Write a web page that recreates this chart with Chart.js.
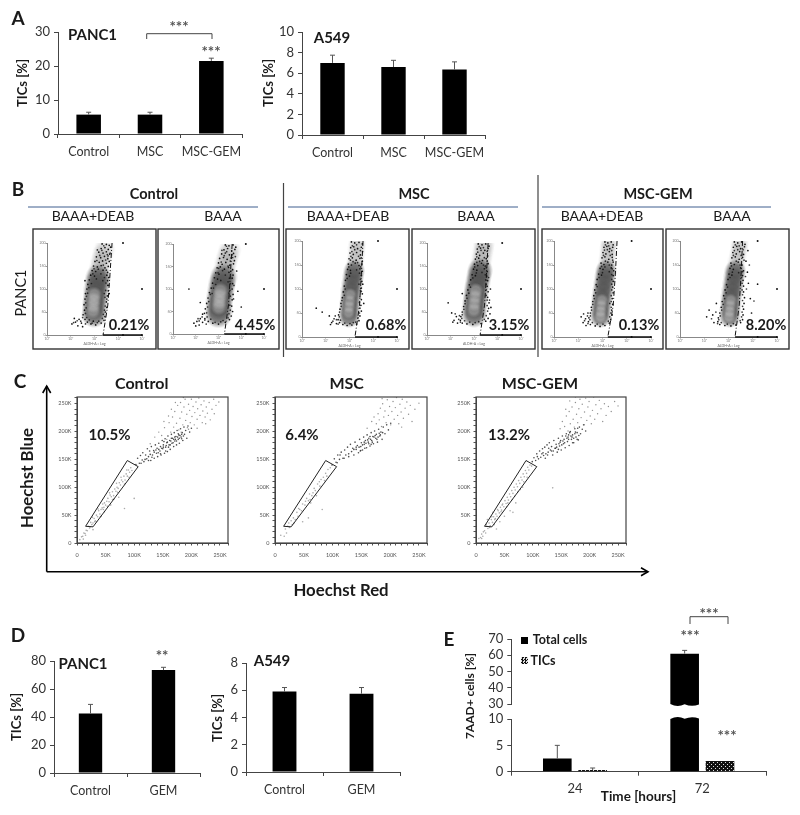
<!DOCTYPE html>
<html>
<head>
<meta charset="utf-8">
<title>TICs figure</title>
<script src="https://cdn.jsdelivr.net/npm/chart.js@4"></script>
<style>
html, body { margin: 0; padding: 0; background: #fff; }
#page { position: relative; width: 800px; height: 815px; overflow: hidden; filter: blur(0.4px); font-family: Lato, sans-serif; color: #222; }
.txt { position: absolute; white-space: nowrap; line-height: 1; }
svg { position: absolute; left: 0; top: 0; }
</style>
</head>
<body>
<div id="page"></div>
<script>
// panel A
const aCats = ['Control', 'MSC', 'MSC-GEM'];
const aPanc = [5.7, 5.7, 21.5];
const aPancErr = [0.7, 0.7, 0.8];
const aLung = [7.0, 6.6, 6.35];
const aLungErr = [0.75, 0.65, 0.75];

// panel D
const dCats = ['Control', 'GEM'];
const dPanc = [42.5, 73.5];
const dPancErr = [6.5, 2];
const dLung = [5.9, 5.75];
const dLungErr = [0.3, 0.45];

// panel E
const eCats = ['24', '72'];
const eTotal = [2.5, 61];
const eTotalErr = [2.5, 2];
const eTics = [0.3, 2.05];
const eTicsErr = [0.4, 0];

// panel B, x = log decades of the ALDH channel, y = SSC
const b1Speck = [[2.32,198],[2.5,197],[2.62,195],[2.28,188],[2.44,190],[2.58,186],[2.68,191],[2.18,180],[2.36,178],[2.5,181],[2.64,176],[2.08,170],[2.26,168],[2.42,171],[2.56,166],[2.02,160],[2.2,158],[2.34,161],[2.5,156],[2.62,160],[1.96,150],[2.12,148],[2.28,151],[2.44,146],[2.58,149],[1.9,140],[2.05,138],[2.36,141],[2.55,136],[1.84,130],[2.0,128],[2.52,130],[2.6,125],[1.78,120],[2.55,118],[1.72,110],[2.56,108],[1.68,100],[2.58,96],[1.62,90],[2.54,85],[1.6,78],[2.5,72],[1.56,66],[2.52,60],[1.58,54],[2.46,50],[1.52,44],[2.44,40],[1.6,34],[2.4,32],[1.7,28],[2.28,26],[1.85,24],[2.05,22],[1.95,30],[1.35,34],[1.2,28],[1.05,24],[1.3,20],[1.45,26],[1.5,18],[1.15,36],[2.62,90],[1.6,118]];
const b2Speck = [[2.3,198],[2.46,196],[2.64,198],[2.76,193],[2.24,187],[2.4,190],[2.58,185],[2.72,188],[2.14,178],[2.3,180],[2.48,176],[2.66,179],[2.05,168],[2.22,170],[2.38,166],[2.56,169],[2.7,163],[2.0,158],[2.16,155],[2.32,159],[2.5,153],[2.66,156],[1.94,147],[2.08,149],[2.26,144],[2.44,148],[2.62,143],[1.88,136],[2.02,133],[2.46,137],[2.64,131],[1.82,125],[1.96,122],[2.6,124],[1.74,113],[2.62,112],[1.68,102],[2.6,100],[1.6,92],[2.64,88],[1.54,80],[2.6,76],[1.48,68],[2.58,62],[1.42,56],[2.62,50],[1.38,46],[2.56,40],[1.4,34],[2.48,32],[1.55,28],[2.3,26],[1.75,24],[2.0,22],[1.2,34],[1.05,28],[0.92,24],[1.15,20],[1.3,26],[1.0,18],[1.3,44],[2.85,95],[3.0,60],[0.7,100],[2.8,140],[1.2,70]];
const b3Speck = [[2.08,198],[2.22,196],[2.4,197],[2.54,194],[2.05,186],[2.18,188],[2.34,184],[2.5,187],[2.02,175],[2.16,172],[2.3,176],[2.46,171],[2.55,178],[1.98,163],[2.12,165],[2.28,160],[2.44,164],[2.54,158],[1.95,152],[2.08,150],[2.24,154],[2.4,149],[2.52,152],[1.92,141],[2.04,139],[2.44,142],[2.54,137],[1.87,130],[2.0,127],[2.5,128],[1.83,118],[2.52,116],[1.78,106],[2.5,102],[1.74,94],[2.54,90],[1.7,82],[2.5,78],[1.64,70],[2.48,66],[1.6,58],[2.5,54],[1.54,46],[2.44,44],[1.52,36],[2.4,34],[1.58,30],[2.3,27],[1.72,26],[1.9,24],[2.1,25],[1.35,38],[1.25,30],[1.45,28],[1.15,44],[0.85,52],[0.6,60],[1.2,26],[2.56,110],[2.6,70]];
const b4Speck = [[2.18,198],[2.34,196],[2.5,198],[2.64,193],[2.14,187],[2.28,189],[2.46,184],[2.6,188],[2.1,176],[2.24,173],[2.4,178],[2.58,172],[2.06,165],[2.2,167],[2.36,162],[2.52,166],[2.02,154],[2.16,151],[2.32,156],[2.48,150],[2.6,155],[1.98,143],[2.12,141],[2.44,144],[2.56,138],[1.92,131],[2.06,129],[2.54,128],[1.86,120],[2.58,118],[1.8,109],[2.56,106],[1.74,98],[2.6,94],[1.68,86],[2.58,82],[1.62,74],[2.64,70],[1.56,62],[2.62,58],[1.5,50],[2.68,46],[1.44,40],[2.6,36],[1.42,32],[2.5,30],[1.5,26],[2.3,25],[1.7,24],[1.95,23],[1.25,40],[1.15,32],[1.3,26],[1.05,48],[0.9,70],[1.1,28],[2.72,60],[2.7,100],[1.5,90]];
const b5Speck = [[2.1,198],[2.22,196],[2.36,198],[2.44,192],[2.06,187],[2.18,189],[2.3,184],[2.42,187],[2.02,176],[2.14,173],[2.28,178],[2.4,172],[1.98,165],[2.1,167],[2.26,162],[2.4,166],[1.94,154],[2.06,151],[2.22,156],[2.38,150],[2.44,156],[1.9,143],[2.02,141],[2.36,144],[2.46,138],[1.84,131],[1.96,129],[2.44,128],[1.78,120],[2.44,116],[1.74,109],[2.42,104],[1.68,98],[2.44,92],[1.64,86],[2.4,80],[1.6,74],[2.42,68],[1.54,62],[2.38,56],[1.5,50],[2.4,46],[1.44,40],[2.34,36],[1.42,32],[2.28,29],[1.5,26],[2.1,24],[1.7,23],[1.9,22],[1.3,38],[1.2,30],[1.32,24],[1.12,42],[1.4,50]];
const b6Speck = [[2.24,198],[2.38,196],[2.54,198],[2.68,193],[2.2,187],[2.34,189],[2.5,184],[2.66,188],[2.8,180],[2.18,176],[2.32,173],[2.46,178],[2.62,172],[2.14,165],[2.28,167],[2.44,162],[2.58,166],[2.72,158],[2.1,154],[2.24,151],[2.4,156],[2.56,150],[2.06,143],[2.2,141],[2.5,144],[2.62,138],[2.02,131],[2.14,129],[2.58,128],[2.78,135],[1.98,120],[2.6,118],[1.92,109],[2.62,106],[2.82,112],[1.86,98],[2.62,94],[1.8,86],[2.66,82],[1.74,74],[2.64,70],[1.7,62],[2.62,58],[2.9,80],[1.64,50],[2.6,46],[1.58,40],[2.58,36],[1.56,32],[2.5,30],[1.64,26],[2.3,25],[1.85,24],[2.1,23],[1.35,46],[1.2,56],[1.1,42],[1.4,30],[1.5,70],[2.95,50],[3.2,110]];

const b1Grain = [[2.12,185],[2.39,194],[2.54,175],[2.22,173],[2.47,163],[2.31,184],[2.1,162],[2.57,172],[2.37,152],[2.16,143],[2.5,141],[2.27,133],[1.93,133],[2.42,125],[2.08,122],[2.48,113],[1.87,112],[2.35,118],[1.76,103],[2.47,97],[1.71,91],[2.44,82],[1.66,84],[2.41,90],[1.63,70],[2.45,63],[1.65,59],[2.42,54],[1.62,47],[2.37,45],[1.67,38],[2.33,36],[1.78,33],[2.18,30],[1.9,26],[2.12,27],[1.5,38],[1.42,30],[1.27,31],[1.62,24],[1.12,27],[2.6,108],[2.52,78],[2.66,178],[1.98,144]];
const b2Grain = [[2.15,186],[2.35,195],[2.6,176],[2.25,174],[2.52,162],[2.36,183],[2.12,160],[2.62,170],[2.42,151],[2.18,141],[2.55,140],[2.3,131],[1.98,136],[2.48,124],[2.1,119],[2.52,112],[1.88,110],[2.42,116],[1.78,102],[2.5,97],[1.72,90],[2.52,84],[1.64,88],[2.46,91],[1.57,72],[2.5,64],[1.52,60],[2.52,53],[1.48,47],[2.46,45],[1.5,38],[2.42,36],[1.66,33],[2.2,30],[1.85,26],[2.1,27],[1.28,38],[1.15,29],[1.4,31],[1.46,22],[1.1,34],[2.68,108],[2.66,78],[2.74,172],[2.01,146]];
const b3Grain = [[2.12,190],[2.3,192],[2.46,180],[2.1,178],[2.38,168],[2.22,182],[2.06,168],[2.5,165],[2.34,155],[2.15,157],[2.47,146],[2.3,140],[1.97,146],[2.42,133],[2.05,133],[2.46,120],[1.9,122],[2.4,110],[1.82,100],[2.46,97],[1.78,87],[2.44,84],[1.68,76],[2.42,72],[1.65,64],[2.44,60],[1.58,52],[2.42,50],[1.57,42],[2.36,40],[1.62,35],[2.26,31],[1.8,29],[2.02,28],[1.45,36],[1.3,33],[1.4,44],[1.52,27],[2.5,95],[2.04,160],[2.16,30]];
const b4Grain = [[2.22,192],[2.4,190],[2.56,182],[2.16,180],[2.44,168],[2.3,184],[2.12,170],[2.56,160],[2.4,152],[2.24,160],[2.52,146],[2.34,136],[2.03,148],[2.48,131],[2.1,135],[2.5,120],[1.95,124],[2.52,110],[1.85,104],[2.52,98],[1.78,91],[2.52,86],[1.7,80],[2.56,76],[1.62,68],[2.56,64],[1.57,56],[2.58,52],[1.5,44],[2.52,42],[1.48,36],[2.44,34],[1.6,31],[2.2,29],[1.82,28],[2.05,27],[1.35,34],[1.2,46],[1.38,42],[1.42,28],[2.66,76],[2.62,125],[2.12,158]];
const b5Grain = [[2.12,192],[2.26,190],[2.38,180],[2.08,181],[2.32,170],[2.2,182],[2.04,170],[2.42,160],[2.28,150],[2.12,158],[2.4,142],[2.28,136],[1.96,147],[2.38,130],[2.0,134],[2.38,120],[1.86,124],[2.38,110],[1.78,105],[2.38,98],[1.72,92],[2.36,86],[1.66,80],[2.36,74],[1.6,68],[2.36,62],[1.55,56],[2.34,50],[1.5,44],[2.3,42],[1.48,36],[2.24,33],[1.58,30],[2.02,27],[1.78,27],[1.38,44],[1.26,34],[1.4,28],[1.22,48],[2.3,70],[2.1,146]];
const b6Grain = [[2.28,192],[2.44,190],[2.6,182],[2.24,180],[2.52,170],[2.38,182],[2.2,170],[2.64,160],[2.48,150],[2.32,158],[2.58,136],[2.42,134],[2.12,148],[2.54,124],[2.16,135],[2.56,112],[2.06,124],[2.7,126],[1.96,104],[2.56,98],[1.9,92],[2.58,88],[1.84,80],[2.58,76],[1.78,68],[2.58,64],[1.72,56],[2.56,52],[1.66,44],[2.54,42],[1.6,36],[2.48,34],[1.7,30],[2.2,28],[1.95,27],[1.48,52],[1.3,38],[1.55,28],[2.86,150],[3.05,75],[2.74,100]];

const b1Body = [[1.98,44],[2.0,58],[2.02,72],[2.05,86],[2.08,100],[2.12,114],[2.16,126]];
const b2Body = [[2.0,44],[2.02,58],[2.04,72],[2.08,86],[2.12,100],[2.17,114],[2.22,126]];
const b3Body = [[1.98,42],[2.0,56],[2.02,70],[2.05,84],[2.08,98],[2.12,112],[2.16,126],[2.2,138]];
const b4Body = [[2.0,44],[2.02,58],[2.04,72],[2.07,86],[2.11,100],[2.16,114],[2.21,128],[2.26,140]];
const b5Body = [[1.92,42],[1.94,56],[1.96,70],[1.99,84],[2.03,98],[2.07,112],[2.11,126],[2.15,138]];
const b6Body = [[2.05,42],[2.07,56],[2.09,70],[2.12,84],[2.16,98],[2.2,112],[2.24,126],[2.28,138]];

const b1Haze = [[2.2,138],[2.25,150],[2.3,162],[2.36,174],[2.44,186]];
const b2Haze = [[2.26,138],[2.3,150],[2.35,162],[2.42,174],[2.5,186]];
const b3Haze = [[2.22,148],[2.26,160],[2.29,172],[2.31,184],[2.33,194]];
const b4Haze = [[2.3,150],[2.34,162],[2.38,174],[2.42,186],[2.44,196]];
const b5Haze = [[2.17,148],[2.2,160],[2.23,172],[2.25,184],[2.27,194]];
const b6Haze = [[2.31,148],[2.35,160],[2.4,172],[2.44,184],[2.47,194]];

const b1Core = [[1.95,52],[1.96,64],[1.98,76],[2.0,88]];
const b2Core = [[2.02,60],[2.04,72],[2.06,84],[2.09,96]];
const b3Core = [[1.98,50],[2.0,62],[2.02,74],[2.05,88]];
const b4Core = [[2.0,54],[2.02,68],[2.05,82],[2.08,96]];
const b5Core = [[1.93,42],[1.94,52],[1.96,64],[1.99,76]];
const b6Core = [[2.04,42],[2.06,52],[2.08,64],[2.11,76]];

const b1Gate = [[2.74,200],[2.65,131],[2.56,65],[2.36,0]];
const b2Gate = [[2.6,200],[2.52,131],[2.44,65],[2.26,0]];
const b3Gate = [[2.57,200],[2.5,131],[2.42,65],[2.23,0]];
const b4Gate = [[2.6,200],[2.53,131],[2.45,65],[2.26,0]];
const b5Gate = [[2.6,200],[2.53,131],[2.44,65],[2.22,0]];
const b6Gate = [[2.58,200],[2.52,131],[2.44,65],[2.27,0]];
const gateNodes = [[3.2,200],[4,100],[3.2,0],[4,0]];

// panel C, both channels in thousands
const cGate = [[15,30],[88,148],[107,137],[28,29],[15,30]];
const c1Tail = [[5,6],[8,11],[10,12],[12,18],[14,17],[16,23],[18,22],[20,30],[22,27],[24,37],[26,33],[28,36],[30,44],[32,40],[34,50],[36,47],[38,58],[40,52],[42,60],[44,63],[46,60],[48,72],[50,68],[52,75],[54,80],[56,74],[58,86],[60,83],[62,92],[64,85],[66,97],[68,93],[70,100],[72,98],[74,108],[76,104],[78,113],[80,110],[82,120],[84,113],[86,124],[88,120],[90,131],[92,127],[94,135],[96,130],[34,38],[48,56],[62,78],[28,24],[42,48],[100,80],[83,62],[23,29],[31,38],[37,61],[41,47],[47,64],[53,66],[57,90],[65,79],[71,91],[77,118],[83,106],[91,118],[73,82],[59,68],[45,70],[15,14],[11,7],[27,46],[69,107],[87,131]];
const c1Band = [[103,141],[106,152],[109,143],[111,157],[114,149],[115,162],[117,146],[120,158],[122,151],[123,169],[125,155],[127,165],[129,148],[130,173],[132,158],[134,166],[135,152],[137,176],[139,161],[140,170],[141,155],[143,179],[145,165],[146,173],[147,158],[149,184],[150,169],[151,176],[153,161],[154,187],[155,172],[157,180],[158,164],[159,192],[161,176],[162,184],[163,168],[165,195],[166,179],[167,188],[169,173],[170,198],[171,183],[173,191],[174,176],[175,202],[177,186],[178,194],[179,179],[181,205],[182,190],[184,198],[185,184],[187,208],[188,195],[190,202],[192,188],[194,210],[197,199],[200,206],[156,175],[148,170],[164,183],[172,186],[180,193],[138,167],[128,159],[168,180],[183,195],[176,190],[135,163],[143,168],[151,172],[158,181],[163,176],[169,186],[174,183],[177,196],[186,192],[160,172],[146,160],[155,165],[171,190],[179,188],[165,188],[183,187],[152,182],[142,162],[131,154],[119,150],[112,143],[125,148]];
const c1Fan = [[148,193],[153,207],[157,186],[161,216],[164,199],[167,226],[169,208],[171,236],[174,215],[176,247],[178,203],[180,224],[181,252],[183,235],[185,212],[187,244],[189,258],[190,220],[192,231],[193,207],[195,249],[197,238],[198,216],[200,258],[201,227],[203,245],[205,212],[206,234],[208,253],[210,222],[211,241],[213,260],[215,229],[217,248],[219,216],[220,237],[222,255],[224,226],[226,244],[228,233],[231,252],[233,221],[236,240],[239,258],[243,247],[248,253],[165,240],[172,252],[186,261],[198,263],[160,228],[152,218],[143,199],[136,190],[128,178],[182,199],[195,204],[210,206],[225,214],[240,232]];
const c2Tail = [[18,25],[20,18],[16,12],[22,30],[25,28],[28,40],[30,33],[32,45],[35,42],[38,55],[40,48],[43,60],[46,58],[48,70],[52,68],[55,80],[58,76],[60,88],[64,85],[68,98],[70,94],[74,106],[78,102],[80,114],[84,118],[88,125],[90,120],[92,132],[96,135],[48,38],[62,72],[58,45],[82,60],[72,85],[10,14],[33,36],[41,62],[53,75],[61,78],[77,110],[86,112],[24,36],[66,90]];
const c2Band = [[99,140],[103,151],[106,145],[109,158],[112,150],[115,163],[118,152],[121,167],[123,158],[126,172],[128,160],[131,177],[133,164],[135,170],[137,158],[139,181],[141,168],[143,175],[145,162],[147,186],[149,173],[150,180],[152,167],[154,190],[155,177],[157,184],[159,171],[160,194],[162,181],[163,188],[165,174],[167,198],[168,184],[170,191],[171,178],[173,201],[175,188],[176,195],[178,181],[180,204],[182,192],[184,199],[186,186],[188,208],[191,196],[194,212],[197,203],[201,215],[158,179],[166,186],[174,193],[152,176],[146,172],[181,197],[169,181],[163,178],[141,172],[148,165],[156,170],[161,185],[167,177],[172,190],[177,186],[183,194],[155,181],[165,191],[179,190],[187,198],[149,166],[137,168],[128,155],[120,152],[113,158],[108,144]];
const c2Fan = [[176,214],[179,232],[181,221],[183,242],[185,209],[187,250],[189,226],[191,237],[193,216],[195,257],[197,229],[199,245],[201,212],[203,236],[205,254],[207,222],[209,243],[211,261],[213,229],[215,214],[217,249],[219,235],[221,258],[223,224],[226,242],[229,253],[232,231],[235,247],[238,218],[243,240],[250,251],[172,226],[168,218],[186,259],[196,263],[207,263],[220,208],[160,206]];
const c3Tail = [[5,8],[8,10],[10,16],[12,12],[15,22],[17,18],[19,30],[21,26],[23,36],[25,31],[27,42],[29,37],[31,47],[33,42],[35,52],[37,48],[39,58],[41,54],[43,64],[45,59],[47,70],[49,65],[51,76],[53,71],[55,82],[57,77],[59,88],[61,83],[63,94],[65,89],[67,100],[69,95],[71,106],[73,101],[75,112],[77,107],[79,118],[81,113],[83,124],[85,119],[87,130],[89,125],[91,136],[93,131],[95,140],[98,138],[30,55],[42,38],[50,48],[60,58],[20,42],[65,55],[70,72],[36,25],[82,100],[135,99],[24,28],[34,44],[44,56],[54,65],[64,78],[74,92],[84,110],[32,33],[46,68],[56,72],[68,84],[78,96],[90,118],[38,60],[28,47],[18,33],[13,20],[10,8]];
const c3Band = [[99,146],[102,153],[105,148],[107,160],[110,151],[112,165],[114,154],[117,169],[119,157],[121,172],[123,160],[125,176],[127,163],[129,180],[131,167],[133,173],[135,158],[137,184],[139,170],[141,177],[143,163],[145,188],[147,174],[148,181],[150,167],[152,192],[154,178],[155,186],[157,171],[159,196],[161,182],[162,190],[164,175],[166,200],[168,186],[170,194],[172,180],[174,205],[176,190],[178,198],[180,185],[182,208],[184,196],[187,204],[190,212],[193,201],[146,178],[153,183],[160,188],[167,192],[174,196],[140,170],[133,165],[126,158],[118,162],[170,180],[163,194],[178,186],[128,170],[136,165],[142,172],[149,184],[156,180],[163,186],[169,190],[175,199],[181,193],[158,192],[151,176],[145,168],[165,198],[172,188],[179,206],[122,152],[116,160],[108,155]];
const c3Fan = [[148,205],[152,218],[156,209],[159,228],[162,201],[164,236],[166,214],[169,244],[171,222],[173,208],[175,252],[177,231],[179,216],[181,241],[183,258],[185,225],[187,249],[189,212],[191,235],[193,260],[195,220],[197,244],[199,254],[201,228],[203,214],[205,238],[207,262],[209,222],[211,248],[214,232],[217,256],[220,241],[223,218],[226,250],[229,229],[233,245],[238,236],[244,254],[250,246],[186,263],[200,263],[158,240],[165,255],[175,262]];

const INK = '#444';
const page = document.getElementById('page');
Chart.defaults.font.family = 'Lato, sans-serif';
Chart.defaults.color = '#333';
Chart.defaults.animation = false;
Chart.defaults.responsive = false;
Chart.defaults.devicePixelRatio = 1;
Chart.defaults.plugins.legend.display = false;
Chart.defaults.plugins.tooltip.enabled = false;

function addCanvas(x, y, w, h) {
  const c = document.createElement('canvas');
  c.width = w;
  c.height = h;
  c.style.cssText = `position:absolute;left:${x}px;top:${y}px;width:${w}px;height:${h}px`;
  page.appendChild(c);
  return c;
}

// text is placed by its centre
function text(str, cx, cy, size, bold, extra) {
  const d = document.createElement('div');
  d.className = 'txt';
  d.textContent = str;
  const rot = extra && extra.rotate ? ' rotate(-90deg)' : '';
  d.style.cssText = `left:${cx}px;top:${cy}px;font-size:${size}px;font-weight:${bold ? 700 : 400};transform:translate(-50%,-50%)${rot};color:${(extra && extra.color) || '#1a1a1a'}`;
  page.appendChild(d);
}

// fixed axis boxes, so the plot area lands where it should whatever the labels need
function fixY(width) {
  return s => { s.width = width; s.paddingTop = 0; s.paddingBottom = 0; };
}
function fixX(height) {
  return s => { s.height = height; s.paddingLeft = 0; s.paddingRight = 0; };
}

// soft round sprite for the density clouds, hard discs look wrong there
function softDot(r, rgb, alpha) {
  const c = document.createElement('canvas');
  c.width = c.height = Math.ceil(r * 2);
  const g = c.getContext('2d');
  const grad = g.createRadialGradient(r, r, 0, r, r, r);
  grad.addColorStop(0, `rgba(${rgb},${alpha})`);
  grad.addColorStop(0.55, `rgba(${rgb},${alpha})`);
  grad.addColorStop(1, `rgba(${rgb},0)`);
  g.fillStyle = grad;
  g.fillRect(0, 0, c.width, c.height);
  return c;
}

const errorBars = {
  id: 'errorBars',
  afterDatasetsDraw(chart) {
    const ctx = chart.ctx;
    const y = chart.scales.y;
    chart.data.datasets.forEach((ds, i) => {
      if (!ds.errs) return;
      chart.getDatasetMeta(i).data.forEach((bar, k) => {
        const top = ds.data[k] + ds.errs[k];
        if (!ds.errs[k] || ds.data[k] < y.min || top > y.max) return;
        const y0 = y.getPixelForValue(ds.data[k]);
        const y1 = y.getPixelForValue(top);
        ctx.save();
        ctx.strokeStyle = '#555';
        ctx.lineWidth = 1;
        ctx.beginPath();
        ctx.moveTo(bar.x, y0);
        ctx.lineTo(bar.x, y1);
        ctx.moveTo(bar.x - 2.5, y1);
        ctx.lineTo(bar.x + 2.5, y1);
        ctx.stroke();
        ctx.restore();
      });
    });
  }
};

const plotFrame = {
  id: 'plotFrame',
  afterDraw(chart) {
    const a = chart.chartArea;
    chart.ctx.save();
    chart.ctx.strokeStyle = '#444';
    chart.ctx.lineWidth = 1.2;
    chart.ctx.strokeRect(a.left, a.top, a.right - a.left, a.bottom - a.top);
    chart.ctx.restore();
  }
};

function barChart(left, right, top, base, cats, vals, errs, max, step, pct) {
  const padL = 45, padT = 8, padR = 10, padB = 32;
  const c = addCanvas(left - padL, top - padT, right - left + padL + padR, base - top + padT + padB);
  new Chart(c, {
    type: 'bar',
    data: { labels: cats, datasets: [{ data: vals, errs: errs, backgroundColor: '#000', categoryPercentage: 1, barPercentage: pct }] },
    options: {
      layout: { padding: { top: padT, right: padR } },
      scales: {
        x: {
          afterFit: fixX(padB),
          grid: { drawOnChartArea: false, tickLength: 4, color: INK },
          border: { color: INK },
          ticks: { font: { size: 12.5 }, padding: 6, maxRotation: 0, autoSkip: false }
        },
        y: {
          min: 0, max: max,
          afterFit: fixY(padL),
          grid: { drawOnChartArea: false, tickLength: 4, color: INK },
          border: { color: INK },
          ticks: { stepSize: step, font: { size: 13 }, padding: 4, autoSkip: false }
        }
      }
    },
    plugins: [errorBars]
  });
}

function flowPlot(frameL, frameR, left, right, speck, grain, body, haze, core, gate, bodyR) {
  const fTop = 229, fBot = 349, top = 232, bot = 338;
  const c = addCanvas(frameL, fTop, frameR - frameL, fBot - fTop);
  const gateFoot = gate[gate.length - 1];
  new Chart(c, {
    type: 'scatter',
    data: { datasets: [
      { data: [gateFoot, [4, 0]], showLine: true, borderColor: '#111', borderWidth: 1.3, pointRadius: 0, clip: false, order: 1 },
      { data: gate, showLine: true, borderColor: '#111', borderWidth: 1, borderDash: [5, 2, 1, 2], pointRadius: 0, clip: false, order: 1 },
      { data: gateNodes, pointRadius: 1, backgroundColor: '#111', borderWidth: 0, clip: false, order: 1 },
      { data: speck, pointRadius: 0.85, backgroundColor: '#111', borderWidth: 0, order: 2 },
      { data: grain, pointRadius: 0.85, backgroundColor: 'rgba(25,25,25,0.85)', borderWidth: 0, order: 2 },
      { data: core, pointRadius: bodyR, pointStyle: softDot(bodyR * 0.6, '205,205,205', 0.42), order: 3 },
      { data: body, pointRadius: bodyR, pointStyle: softDot(bodyR, '82,82,82', 0.72), order: 4 },
      { data: haze, pointRadius: bodyR, pointStyle: softDot(bodyR * 0.85, '125,125,125', 0.22), order: 5 }
    ] },
    options: {
      layout: { padding: { top: top - fTop, right: frameR - right } },
      scales: {
        x: {
          type: 'linear', min: 0, max: 4,
          afterFit: fixX(fBot - bot),
          grid: { drawOnChartArea: false, tickLength: 1.5, color: '#999' },
          border: { color: '#888' },
          title: { display: true, text: 'ALDH-A :: Log', font: { size: 3.5 }, padding: 0, color: '#666' },
          ticks: { stepSize: 1, font: { size: 3.5 }, color: '#777', padding: 0, maxRotation: 0, callback: v => '10' + '⁰¹²³⁴'[v] }
        },
        y: {
          min: 0, max: 200,
          afterFit: fixY(left - frameL),
          grid: { drawOnChartArea: false, tickLength: 1.5, color: '#999' },
          border: { color: '#888' },
          ticks: { stepSize: 50, font: { size: 3.5 }, color: '#777', padding: 0 }
        }
      }
    }
  });
}

function hoechstPlot(left, right, tail, band, fan) {
  const padL = 25, padT = 5, padR = 6, padB = 20;
  const top = 397, bot = 543;
  const c = addCanvas(left - padL, top - padT, right - left + padL + padR, bot - top + padT + padB);
  const labelK = v => (v === 0 ? '0' : v % 50 === 0 ? v + 'K' : '');
  new Chart(c, {
    type: 'scatter',
    data: { datasets: [
      { data: cGate, showLine: true, borderColor: '#222', borderWidth: 1, pointRadius: 0, order: 1 },
      { data: band, pointRadius: 0.8, backgroundColor: 'rgba(30,30,30,0.8)', borderWidth: 0, order: 2 },
      { data: fan, pointRadius: 0.7, backgroundColor: 'rgba(70,70,70,0.6)', borderWidth: 0, order: 3 },
      { data: tail, pointRadius: 0.8, backgroundColor: 'rgba(100,100,100,0.55)', borderWidth: 0, order: 4 }
    ] },
    options: {
      layout: { padding: { top: padT, right: padR } },
      scales: {
        x: {
          type: 'linear', min: 0, max: 264,
          afterFit: fixX(padB),
          grid: { drawOnChartArea: false, tickLength: 2.5, color: '#555' },
          border: { color: '#444' },
          ticks: { stepSize: 10, autoSkip: false, maxRotation: 0, font: { size: 5.5 }, color: '#555', padding: 6, callback: labelK }
        },
        y: {
          min: 0, max: 262,
          afterFit: fixY(padL),
          grid: { drawOnChartArea: false, tickLength: 2.5, color: '#555' },
          border: { color: '#444' },
          ticks: { stepSize: 10, autoSkip: false, font: { size: 5.5 }, color: '#555', padding: 3, callback: labelK }
        }
      }
    },
    plugins: [plotFrame]
  });
}

// wavy cut on the broken bar, drawn on both halves of panel E
function breakWave(atTop) {
  return {
    id: 'breakWave',
    afterDatasetsDraw(chart) {
      const bar = chart.getDatasetMeta(0).data[1];
      const a = chart.chartArea;
      const l = bar.x - bar.width / 2, r = bar.x + bar.width / 2, m = bar.width / 4;
      const y = atTop ? a.top : a.bottom;
      const d = atTop ? -2.4 : 2.4;
      const ctx = chart.ctx;
      ctx.save();
      ctx.fillStyle = '#000';
      ctx.beginPath();
      ctx.moveTo(l, y);
      ctx.quadraticCurveTo(l + m, y + d * 1.6, l + 2 * m, y + d * 0.1);
      ctx.quadraticCurveTo(r - m, y + d * 1.4, r, y + d * 0.2);
      ctx.lineTo(r, y);
      ctx.closePath();
      ctx.fill();
      ctx.restore();
    }
  };
}

function hatchPattern() {
  const t = document.createElement('canvas');
  t.width = 4;
  t.height = 4;
  const g = t.getContext('2d');
  g.fillStyle = '#111';
  g.fillRect(0, 0, 4, 4);
  g.fillStyle = '#ddd';
  g.fillRect(0, 0, 1, 1);
  g.fillRect(2, 2, 1, 1);
  return g.createPattern(t, 'repeat');
}

function brokenChart(top, height, plotTop, plotBot, min, max, step, isLower) {
  const left = 445, plotL = 511.3, plotR = 766, w = 330;
  const c = addCanvas(left, top, w, height);
  const hatch = hatchPattern();
  new Chart(c, {
    type: 'bar',
    data: { labels: eCats, datasets: [
      { data: eTotal, errs: eTotalErr, backgroundColor: '#000', categoryPercentage: 0.555, barPercentage: 0.81 },
      { data: eTics, errs: eTicsErr, backgroundColor: hatch, categoryPercentage: 0.555, barPercentage: 0.81 }
    ] },
    options: {
      // the hidden x scale of the upper half still reserves its afterFit height
      layout: { padding: { top: plotTop - top, right: left + w - plotR } },
      scales: {
        x: {
          display: isLower,
          afterFit: fixX(top + height - plotBot),
          grid: { drawOnChartArea: false, tickLength: 4, color: INK },
          border: { color: INK },
          ticks: { font: { size: 13 }, padding: 5, maxRotation: 0, autoSkip: false }
        },
        y: {
          min: min, max: max,
          afterFit: fixY(plotL - left),
          grid: { drawOnChartArea: false, tickLength: 4, color: INK },
          border: { color: INK },
          ticks: { stepSize: step, font: { size: 13 }, padding: 4, autoSkip: false }
        }
      }
    },
    plugins: [errorBars, breakWave(isLower)]
  });
}

// A
barChart(57.5, 242, 32, 134.3, aCats, aPanc, aPancErr, 30, 10, 0.4);
barChart(302, 485, 32, 135, aCats, aLung, aLungErr, 10, 2, 0.4);

// B
flowPlot(33, 156, 45, 153, b1Speck, b1Grain, b1Body, b1Haze, b1Core, b1Gate, 13);
flowPlot(158, 279, 173, 277, b2Speck, b2Grain, b2Body, b2Haze, b2Core, b2Gate, 14);
flowPlot(286, 409, 302, 408, b3Speck, b3Grain, b3Body, b3Haze, b3Core, b3Gate, 11);
flowPlot(412, 535, 427, 532, b4Speck, b4Grain, b4Body, b4Haze, b4Core, b4Gate, 13);
flowPlot(542, 663, 554, 662, b5Speck, b5Grain, b5Body, b5Haze, b5Core, b5Gate, 11);
flowPlot(666, 789, 680, 787, b6Speck, b6Grain, b6Body, b6Haze, b6Core, b6Gate, 11);

// C
hoechstPlot(77, 228, c1Tail, c1Band, c1Fan);
hoechstPlot(275, 427, c2Tail, c2Band, c2Fan);
hoechstPlot(476, 626, c3Tail, c3Band, c3Fan);

// D
barChart(54, 200, 660.7, 773.3, dCats, dPanc, dPancErr, 80, 20, 0.32);
barChart(246, 400, 662.7, 772.3, dCats, dLung, dLungErr, 8, 2, 0.31);

// E
brokenChart(630, 80, 639, 704, 30, 70, 10, false);
brokenChart(710, 95, 719, 771.7, 0, 10, 5, true);

// lines that are not part of any chart
const lines = document.createElementNS('http://www.w3.org/2000/svg', 'svg');
lines.setAttribute('width', 800);
lines.setAttribute('height', 815);
lines.innerHTML = `
<defs><marker id="head" markerWidth="10" markerHeight="10" refX="8" refY="5" orient="auto" markerUnits="userSpaceOnUse"><path d="M1 1 L8 5 L1 9" fill="none" stroke="#000" stroke-width="1.6"/></marker></defs>
<g fill="none" stroke="#444" stroke-width="1">
  <path d="M146.7 39 V33.7 H212 V39"/>
  <path d="M690 624 V616.7 H728 V624"/>
</g>
<g fill="none" stroke="#333" stroke-width="1.4">
  <rect x="33" y="229" width="123" height="120"/>
  <rect x="158" y="229" width="121" height="120"/>
  <rect x="286" y="229" width="123" height="120"/>
  <rect x="412" y="229" width="123" height="120"/>
  <rect x="542" y="229" width="121" height="120"/>
  <rect x="666" y="229" width="123" height="120"/>
</g>
<g stroke="#3f5f8f" stroke-width="1">
  <path d="M28 207 H258"/><path d="M288 207 H518"/><path d="M542 207 H771"/>
</g>
<g stroke="#444" stroke-width="1.2">
  <path d="M283.5 183 V357"/><path d="M538 175 V357"/>
</g>
<g fill="none" stroke="#000" stroke-width="1.6">
  <path d="M46.7 571.7 V386" marker-end="url(#head)"/>
  <path d="M46.7 571.7 H648" marker-end="url(#head)"/>
</g>`;
page.appendChild(lines);

// panel letters
text('A', 18, 17, 19, true);
text('B', 18, 188, 19, true);
text('C', 20, 380, 19, true);
text('D', 18, 634, 19, true);
text('E', 449, 638, 19, true);

// A, D and E labels
text('PANC1', 92.5, 33.5, 15, true);
text('A549', 332, 36.5, 15, true);
text('TICs [%]', 21.5, 83, 13, true, { rotate: true });
text('TICs [%]', 268, 83, 13, true, { rotate: true });
text('***', 179, 26, 15, true, { color: '#555' });
text('***', 211, 51, 15, true, { color: '#555' });
text('PANC1', 83, 663, 15, true);
text('A549', 272, 660, 15, true);
text('TICs [%]', 16, 717, 13, true, { rotate: true });
text('TICs [%]', 217, 718, 13, true, { rotate: true });
text('**', 162, 655, 15, true, { color: '#555' });

// B labels
text('Control', 154, 194, 14.5, true);
text('MSC', 414, 194, 14.5, true);
text('MSC-GEM', 658, 194, 14.5, true);
[[93, 223], [348, 476], [602, 732]].forEach(p => {
  text('BAAA+DEAB', p[0], 216, 14, false);
  text('BAAA', p[1], 216, 14, false);
});
text('PANC1', 20.7, 293, 14.5, false, { rotate: true });
text('0.21%', 129, 325, 14.5, true);
text('4.45%', 255, 325, 14.5, true);
text('0.68%', 386, 325, 14.5, true);
text('3.15%', 509, 325, 14.5, true);
text('0.13%', 639, 325, 14.5, true);
text('8.20%', 766, 325, 14.5, true);

// C labels
text('Control', 141.7, 382.5, 16, true);
text('MSC', 346.7, 382.5, 16, true);
text('MSC-GEM', 540, 382.5, 16, true);
text('10.5%', 109.5, 434, 15, true);
text('6.4%', 302, 434, 15, true);
text('13.2%', 509, 434, 15, true);
text('Hoechst Blue', 26.7, 478, 16.8, true, { rotate: true });
text('Hoechst Red', 341, 590, 16.8, true);

// E labels
text('7AAD+ cells [%]', 470, 696, 12, true, { rotate: true });
text('Time [hours]', 638.5, 797, 13.5, true);
text('Total cells', 560, 640, 12.5, true);
text('TICs', 543, 660.5, 12.5, true);
text('***', 690, 635, 15, true, { color: '#555' });
text('***', 727, 735, 15, true, { color: '#555' });
text('***', 709, 613, 15, true, { color: '#555' });
const swatchA = document.createElement('div');
swatchA.style.cssText = 'position:absolute;left:521px;top:637px;width:7px;height:7px;background:#000';
page.appendChild(swatchA);
const swatchB = document.createElement('div');
swatchB.style.cssText = 'position:absolute;left:521px;top:657px;width:7px;height:7px;background:repeating-conic-gradient(#111 0 25%,#ddd 0 50%) 0 0/3px 3px';
page.appendChild(swatchB);
</script>
</body>
</html>
